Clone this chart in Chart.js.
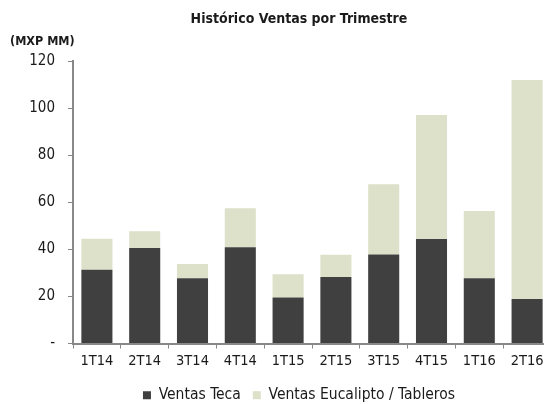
<!DOCTYPE html>
<html>
<head>
<meta charset="utf-8">
<script src="https://cdn.jsdelivr.net/npm/chart.js@4"></script>
<style>
html,body{margin:0;padding:0;background:#fff;overflow:hidden;}
#wrap{width:598px;height:404px;position:relative;}
</style>
</head>
<body>
<div id="wrap"><canvas id="c" width="598" height="404"></canvas></div>
<script>
const categories = ['1T14','2T14','3T14','4T14','1T15','2T15','3T15','4T15','1T16','2T16'];
const ventasTeca = [31.3, 40.6, 27.7, 40.9, 19.5, 28.2, 37.8, 44.4, 27.7, 18.9];
const ventasEucalipto = [13.2, 7.1, 6.1, 16.5, 9.9, 9.5, 29.8, 52.7, 28.6, 93.0];
const yTicks = [0, 20, 40, 60, 80, 100, 120];
const titleText = 'Histórico Ventas por Trimestre';
const unitText = '(MXP MM)';

const FONT = "'Liberation Sans Narrow', 'Arial Narrow', 'DejaVu Sans Condensed', sans-serif";

const unitPlugin = {
  id: 'unitLabel',
  afterDraw(chart) {
    const ctx = chart.ctx;
    ctx.save();
    ctx.fillStyle = '#1a1a1a';
    ctx.textBaseline = 'middle';
    ctx.textAlign = 'left';
    ctx.font = 'bold 12.5px ' + FONT;
    ctx.fillText(unitText, 10, 42);
    ctx.restore();
  }
};

new Chart(document.getElementById('c'), {
  type: 'bar',
  data: {
    labels: categories,
    datasets: [
      { label: 'Ventas Teca', data: ventasTeca, backgroundColor: '#404040', borderWidth: 0, categoryPercentage: 0.65, barPercentage: 1 },
      { label: 'Ventas Eucalipto / Tableros', data: ventasEucalipto, backgroundColor: '#dde1ca', borderWidth: 0, categoryPercentage: 0.65, barPercentage: 1 }
    ]
  },
  plugins: [unitPlugin],
  options: {
    responsive: false,
    animation: false,
    layout: { padding: { top: 0, right: 0, left: 0, bottom: -9 } },
    plugins: {
      title: {
        display: true, text: titleText, color: '#1a1a1a',
        font: { family: FONT, size: 14, weight: 'bold' },
        padding: { top: 10.5, bottom: 33.7 }
      },
      tooltip: { enabled: false },
      legend: {
        position: 'bottom',
        labels: {
          boxWidth: 8, boxHeight: 8, padding: 12,
          color: '#1a1a1a',
          font: { family: FONT, size: 15.5 }
        }
      }
    },
    scales: {
      x: {
        stacked: true,
        offset: true,
        afterFit(s) { s.height = 32; },
        grid: { display: true, drawOnChartArea: false, drawTicks: true, tickLength: 5, color: '#888', offset: true },
        border: { display: true, color: '#888', width: 2 },
        ticks: { color: '#1a1a1a', font: { family: FONT, size: 14.5 }, padding: 4, maxRotation: 0 }
      },
      y: {
        stacked: true,
        min: 0, max: 120,
        afterFit(s) { s.width = 73; },
        afterBuildTicks(s) { s.ticks = yTicks.map(v => ({ value: v })); },
        grid: { display: true, drawOnChartArea: false, drawTicks: true, tickLength: 5, color: '#888' },
        border: { display: true, color: '#888', width: 2 },
        ticks: {
          color: '#1a1a1a', font: { family: FONT, size: 15 }, padding: 13,
          callback: (v) => v === 0 ? '-' : String(v)
        }
      },
      yPad: {
        axis: 'y',
        position: 'right',
        display: true,
        afterFit(s) { s.width = 47; },
        grid: { display: false },
        border: { display: false },
        ticks: { display: false }
      }
    }
  }
});
</script>
</body>
</html>
